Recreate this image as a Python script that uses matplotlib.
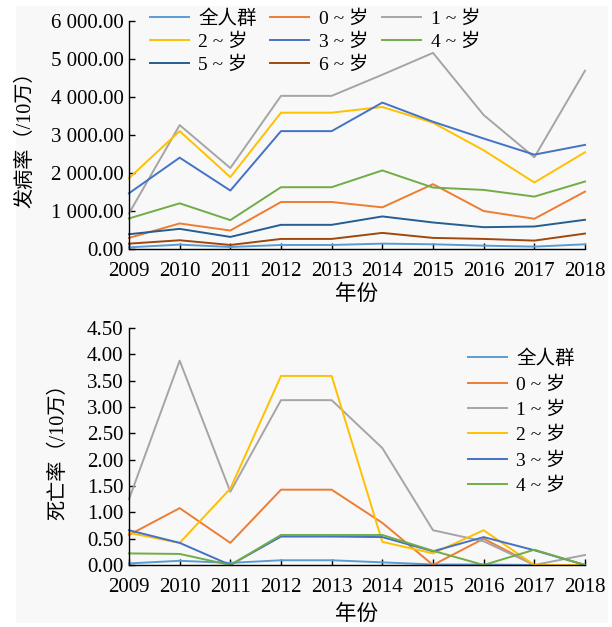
import matplotlib
matplotlib.use("Agg")
import matplotlib.pyplot as plt
from matplotlib.patches import Rectangle
from matplotlib.ticker import FuncFormatter, MultipleLocator

plt.rcParams['font.family'] = ['Liberation Serif', 'Noto Sans CJK SC', 'DejaVu Sans']

years = [2009, 2010, 2011, 2012, 2013, 2014, 2015, 2016, 2017, 2018]

# Incidence per 100,000
inc_labels = ["全人群", "0 ~ 岁", "1 ~ 岁", "2 ~ 岁", "3 ~ 岁", "4 ~ 岁", "5 ~ 岁", "6 ~ 岁"]
inc_all = [44, 115, 53, 106, 106, 141, 124, 88, 62, 124]
inc_0 = [292, 672, 486, 1237, 1237, 1096, 1706, 999, 795, 1511]
inc_1 = [937, 3261, 2130, 4030, 4030, 4587, 5161, 3526, 2413, 4692]
inc_2 = [1865, 3102, 1891, 3588, 3588, 3738, 3323, 2598, 1750, 2545]
inc_3 = [1467, 2404, 1538, 3102, 3102, 3853, 3349, 2907, 2483, 2740]
inc_4 = [804, 1202, 760, 1626, 1626, 2068, 1617, 1555, 1379, 1776]
inc_5 = [389, 530, 318, 636, 636, 857, 698, 574, 592, 769]
inc_6 = [141, 230, 106, 265, 265, 424, 292, 265, 221, 406]

# Mortality per 100,000
mort_labels = ["全人群", "0 ~ 岁", "1 ~ 岁", "2 ~ 岁", "3 ~ 岁", "4 ~ 岁"]
mort_all = [0.03, 0.08, 0.04, 0.09, 0.09, 0.05, 0.01, 0.01, 0.00, 0.00]
mort_0 = [0.57, 1.08, 0.42, 1.43, 1.43, 0.80, 0.00, 0.50, 0.00, 0.00]
mort_1 = [1.25, 3.88, 1.39, 3.13, 3.13, 2.22, 0.66, 0.45, 0.00, 0.19]
mort_2 = [0.61, 0.42, 1.45, 3.59, 3.59, 0.44, 0.22, 0.66, 0.00, 0.00]
mort_3 = [0.66, 0.42, 0.00, 0.54, 0.54, 0.53, 0.26, 0.53, 0.28, 0.00]
mort_4 = [0.22, 0.21, 0.00, 0.57, 0.57, 0.57, 0.27, 0.00, 0.29, 0.00]

colors = ["#5B9BD5", "#ED7D31", "#A5A5A5", "#FFC000", "#4472C4", "#70AD47", "#255E91", "#9E480E"]

W, H = 612, 627
fig = plt.figure(figsize=(W / 100, H / 100), dpi=100)
fig.patch.set_facecolor("white")
fig.patches.append(Rectangle((16 / W, 1 - 623 / H), (608 - 16) / W, (623 - 6) / H,
                             transform=fig.transFigure, facecolor="#f8f8f8",
                             edgecolor="none", zorder=-10))

FS = 15


def px_axes(left, top, right, bottom):
    return fig.add_axes([left / W, 1 - bottom / H, (right - left) / W, (bottom - top) / H])


def style(ax):
    ax.set_facecolor("none")
    for s in ("top", "right"):
        ax.spines[s].set_visible(False)
    for s in ("left", "bottom"):
        ax.spines[s].set_linewidth(1.0)
        ax.spines[s].set_color("black")
    ax.set_xlim(years[0], years[-1])
    ax.set_xticks(years)
    ax.tick_params(axis="both", direction="in", length=4, width=1.0, labelsize=FS, colors="black")
    ax.tick_params(axis="x", pad=9)
    ax.tick_params(axis="y", pad=4)


def row_major(handles, labels, ncol):
    # reorder so a column-filled legend reads left to right, row by row
    n = len(handles)
    nrow = -(-n // ncol)
    order = []
    for c in range(ncol):
        for r in range(nrow):
            i = r * ncol + c
            if i < n:
                order.append(i)
    return [handles[i] for i in order], [labels[i] for i in order]


# --- incidence ---
ax1 = px_axes(129, 21, 585, 249)
style(ax1)
inc_series = [inc_all, inc_0, inc_1, inc_2, inc_3, inc_4, inc_5, inc_6]
for vals, lab, c in zip(inc_series, inc_labels, colors):
    ax1.plot(years, vals, color=c, lw=1.4, label=lab, clip_on=False)
ax1.set_ylim(0, 6000)
ax1.yaxis.set_major_locator(MultipleLocator(1000))
ax1.yaxis.set_major_formatter(FuncFormatter(lambda v, p: f"{v:,.2f}".replace(",", " ")))
ax1.set_ylabel("发病率（/10万）", fontsize=14.5)
ax1.yaxis.set_label_coords(-0.206, 0.5)
ax1.set_xlabel("年份", fontsize=15.5)
ax1.xaxis.set_label_coords(0.5, -0.155)
h, l = ax1.get_legend_handles_labels()
h, l = row_major(h, l, 3)
ax1.legend(h, l, ncol=3, loc="upper left", bbox_to_anchor=(136 / W, 1 + 4 / H),
           bbox_transform=fig.transFigure, frameon=False, fontsize=14,
           handlelength=2.0, handletextpad=0.5, columnspacing=0.7,
           labelspacing=0.28, borderpad=0.2)

# --- mortality ---
ax2 = px_axes(129, 328, 585, 565)
style(ax2)
mort_series = [mort_all, mort_0, mort_1, mort_2, mort_3, mort_4]
for vals, lab, c in zip(mort_series, mort_labels, colors):
    ax2.plot(years, vals, color=c, lw=1.4, label=lab, clip_on=False)
ax2.set_ylim(0, 4.5)
ax2.yaxis.set_major_locator(MultipleLocator(0.5))
ax2.yaxis.set_major_formatter(FuncFormatter(lambda v, p: f"{v:.2f}"))
ax2.set_ylabel("死亡率（/10万）", fontsize=14.5)
ax2.yaxis.set_label_coords(-0.134, 0.5)
ax2.set_xlabel("年份", fontsize=15.5)
ax2.xaxis.set_label_coords(0.5, -0.168)
ax2.legend(ncol=1, loc="upper left", bbox_to_anchor=(454 / W, 1 - 336 / H),
           bbox_transform=fig.transFigure, frameon=False, fontsize=14,
           handlelength=2.0, handletextpad=0.5, labelspacing=0.4, borderpad=0.2)

fig.savefig("out.png", dpi=100, facecolor=fig.get_facecolor())
